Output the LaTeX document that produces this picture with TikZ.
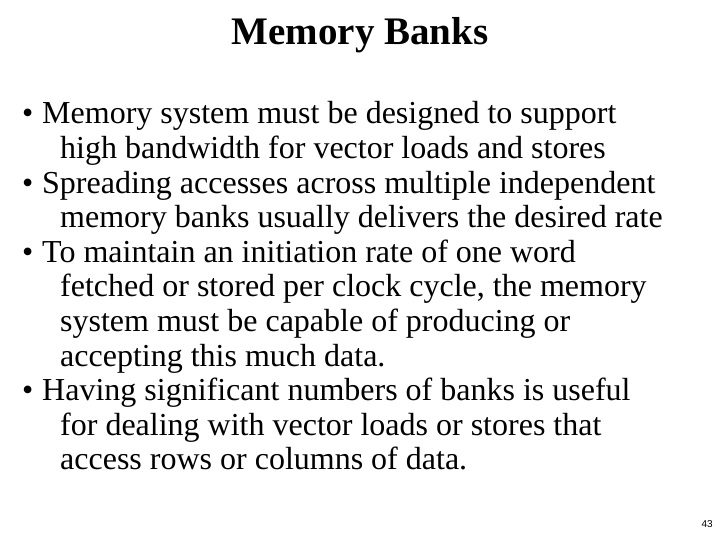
\documentclass[tikz,border=0pt]{standalone}
\usepackage{fontspec}
\setmainfont{Liberation Serif}
\newfontfamily\numfont{Liberation Sans}
\begin{document}
\begin{tikzpicture}[x=1pt,y=1pt,
  body/.style={anchor=base west,inner sep=0pt,font=\fontsize{32}{34}\selectfont},
  bul/.style={anchor=base west,inner sep=0pt,font=\fontsize{32}{34}\selectfont}]
\useasboundingbox (0,0) rectangle (720,540);
\node[anchor=base,inner sep=0pt,font=\fontsize{39}{40}\selectfont\bfseries] (title) at (360,495) {Memory Banks};
\foreach \t/\b [count=\i] in {
 {Memory system must be designed to support}/1,
 {high bandwidth for vector loads and stores}/0,
 {Spreading accesses across multiple independent}/1,
 {memory banks usually delivers the desired rate}/0,
 {To maintain an initiation rate of one word}/1,
 {fetched or stored per clock cycle, the memory}/0,
 {system must be capable of producing or}/0,
 {accepting this much data.}/0,
 {Having significant numbers of banks is useful}/1,
 {for dealing with vector loads or stores that}/0,
 {access rows or columns of data.}/0}{
 \pgfmathsetmacro\yy{540-124-34.6*(\i-1)}
 \ifnum\b=1
  \node[bul] (b\i) at (22,\yy) {•};
  \node[body] (l\i) at (42,\yy) {\t};
 \else
  \node[body] (l\i) at (60,\yy) {\t};
 \fi
}
\node[anchor=base east,inner sep=0pt,font=\numfont\fontsize{10}{10}\selectfont] (pg) at (713,12) {43};
\end{tikzpicture}
\end{document}
